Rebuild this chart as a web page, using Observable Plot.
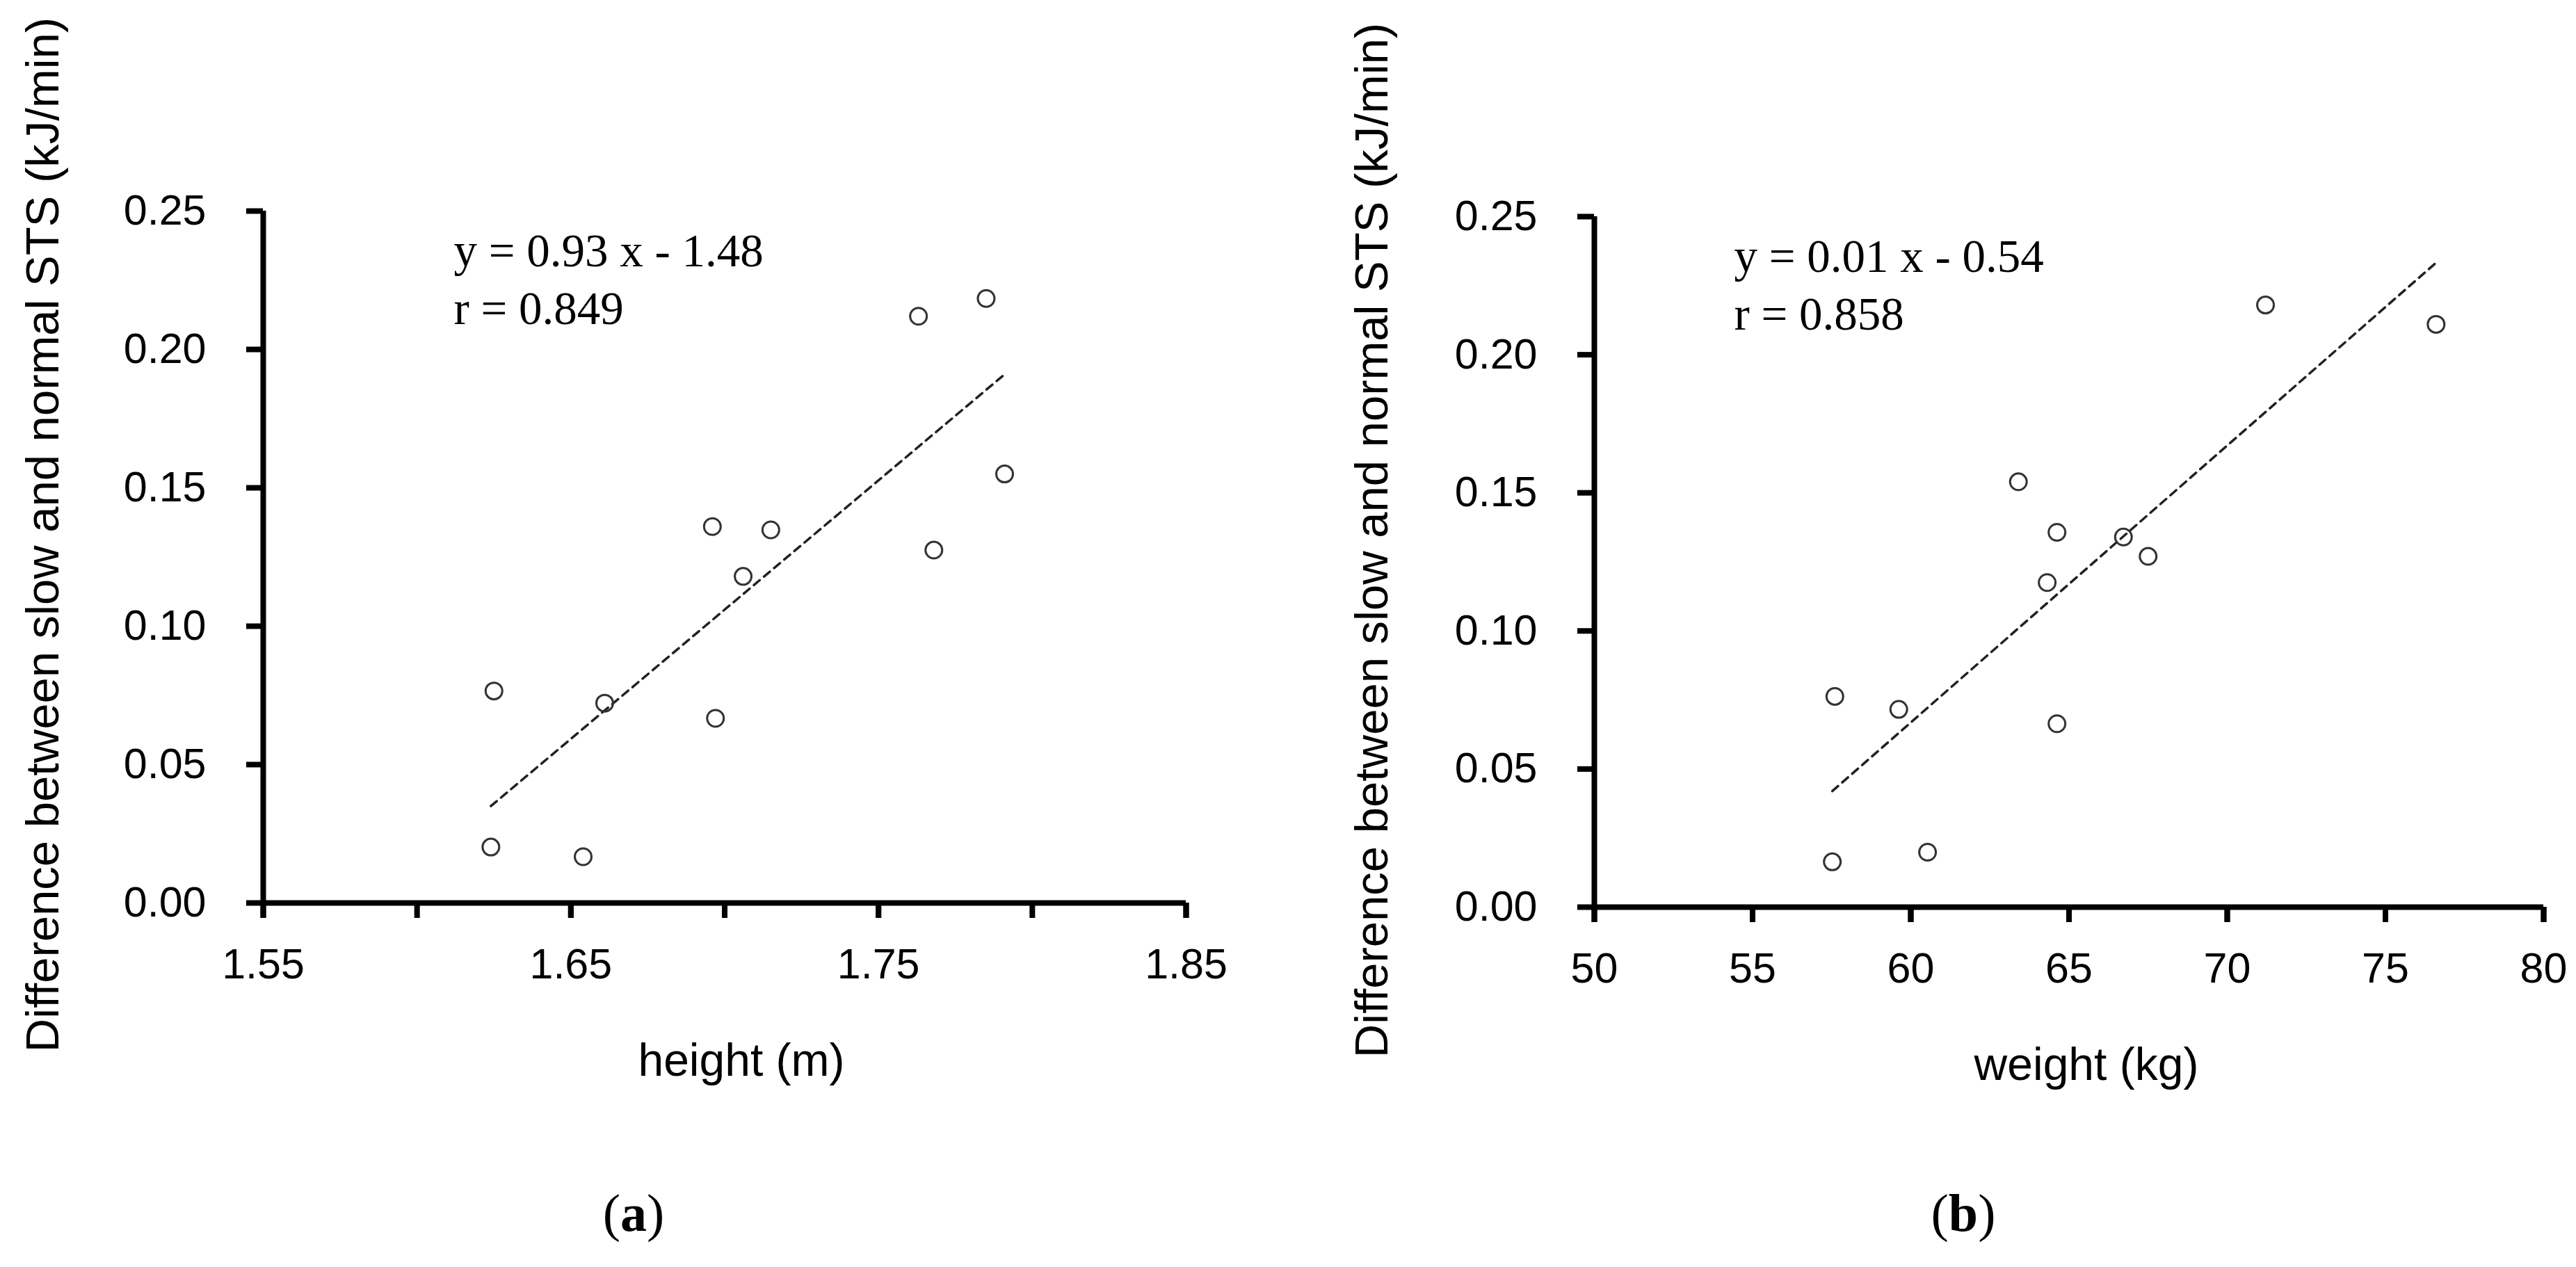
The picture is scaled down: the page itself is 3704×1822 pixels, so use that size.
<!DOCTYPE html>
<html><head><meta charset="utf-8">
<script src="https://cdn.jsdelivr.net/npm/d3@7"></script>
<script src="https://cdn.jsdelivr.net/npm/@observablehq/plot@0.6"></script>
<style>
html,body{margin:0;padding:0;background:#fff;}
#wrap{position:relative;width:3704px;height:1822px;background:#fff;overflow:hidden;}
.panel{position:absolute;top:0;}
.cap{position:absolute;font-family:"Liberation Serif","Times New Roman",serif;font-size:76px;transform:translate(-50%,-50%);white-space:nowrap;color:#000;}
</style></head><body>
<div id="wrap">
 <div id="pa" class="panel" style="left:0"></div>
 <div id="pb" class="panel" style="left:1852px"></div>
 <div class="cap" style="left:911px;top:1744px">(<b>a</b>)</div>
 <div class="cap" style="left:2823px;top:1744px">(<b>b</b>)</div>
</div>
<script>
// Panel (a): height vs difference
const heightM = [1.625, 1.624, 1.654, 1.661, 1.696, 1.697, 1.706, 1.715, 1.763, 1.768, 1.785, 1.791];
const diffA   = [0.0766, 0.0202, 0.0167, 0.0722, 0.136, 0.0667, 0.118, 0.1348, 0.212, 0.1275, 0.2184, 0.155];
// Panel (b): weight vs difference
const weightKg = [57.6, 57.52, 60.53, 59.62, 63.4, 64.62, 64.31, 64.62, 66.72, 67.5, 71.21, 76.6];
const diffB    = [0.0763, 0.0164, 0.0199, 0.0716, 0.154, 0.1357, 0.1175, 0.0664, 0.134, 0.127, 0.218, 0.211];
// Regression line end points
const trendAx = [1.624, 1.791], trendAy = [0.035, 0.191];
const trendBx = [57.52, 76.63], trendBy = [0.042, 0.2336];
// Ticks
const yTicks = [0, 0.05, 0.10, 0.15, 0.20, 0.25];
const xTicksA = [1.55, 1.60, 1.65, 1.70, 1.75, 1.80, 1.85];
const xLabelsA = [1.55, 1.65, 1.75, 1.85];
const xTicksB = [50, 55, 60, 65, 70, 75, 80];
// Texts
const yTitle = "Difference between slow and normal STS (kJ/min)";
const xTitleA = "height (m)";
const xTitleB = "weight (kg)";
const eqA = ["y = 0.93 x - 1.48", "r = 0.849"];
const eqB = ["y = 0.01 x - 0.54", "r = 0.858"];

const zip = (xs, ys) => xs.map((x, i) => ({x, y: ys[i]}));

function panel(o) {
  return Plot.plot({
    width: 1852, height: 1640,
    marginLeft: o.m.l, marginRight: o.m.r, marginTop: o.m.t, marginBottom: o.m.b,
    style: {fontFamily: "'Liberation Sans', Arial, sans-serif", fontSize: "61px", background: "white", color: "black", overflow: "visible"},
    x: {domain: o.xDomain},
    y: {domain: [0, 0.25]},
    marks: [
      Plot.axisY({ticks: yTicks, tickSize: 24, tickPadding: 58, strokeWidth: 8, tickFormat: d3.format(".2f"), label: null, fontSize: 61}),
      Plot.axisX({ticks: o.xTicks, tickSize: 22, strokeWidth: 8, tickFormat: () => "", label: null}),
      Plot.axisX({ticks: o.xLabels, tickSize: 22, tickPadding: 43, strokeWidth: 8, tickFormat: o.xFmt, label: null, fontSize: 61}),
      Plot.ruleX([o.xDomain[0]], {strokeWidth: 8}),
      Plot.ruleY([0], {strokeWidth: 8}),
      Plot.line(o.trend, {x: "x", y: "y", stroke: "#222", strokeWidth: 3.5, strokeDasharray: "11,8"}),
      Plot.dot(o.pts, {x: "x", y: "y", r: 12, stroke: "#333", strokeWidth: 3, fill: "none"}),
      Plot.text([o.eq.join("\n")], {text: d => d, frameAnchor: "top-left", textAnchor: "start", lineAnchor: "top", dx: o.eqDx, dy: 20, fontFamily: "'Liberation Serif', 'Times New Roman', serif", fontSize: 67, lineHeight: 1.24}),
      Plot.text([o.xTitle], {text: d => d, frameAnchor: "bottom", textAnchor: "middle", lineAnchor: "middle", dx: o.xTitleDx, dy: 227, fontSize: 66}),
      Plot.text([yTitle], {text: d => d, frameAnchor: "left", textAnchor: "middle", lineAnchor: "middle", rotate: -90, dx: o.yTitleDx, dy: o.yTitleDy, fontSize: 67})
    ]
  });
}

document.getElementById("pa").append(panel({
  pts: zip(heightM, diffA), trend: zip(trendAx, trendAy),
  xDomain: [1.55, 1.85], xTicks: xTicksA, xLabels: xLabelsA, xFmt: d3.format(".2f"),
  xTitle: xTitleA, eq: eqA,
  m: {l: 378, r: 147, t: 303, b: 342},
  xTitleDx: 24, yTitleDx: -316, yTitleDy: -32, eqDx: 274
}));
document.getElementById("pb").append(panel({
  pts: zip(weightKg, diffB), trend: zip(trendBx, trendBy),
  xDomain: [50, 80], xTicks: xTicksB, xLabels: xTicksB, xFmt: d3.format("d"),
  xTitle: xTitleB, eq: eqB,
  m: {l: 440, r: 47, t: 311, b: 336},
  xTitleDx: 25, yTitleDx: -319, yTitleDy: -31, eqDx: 201
}));
</script>
</body></html>
